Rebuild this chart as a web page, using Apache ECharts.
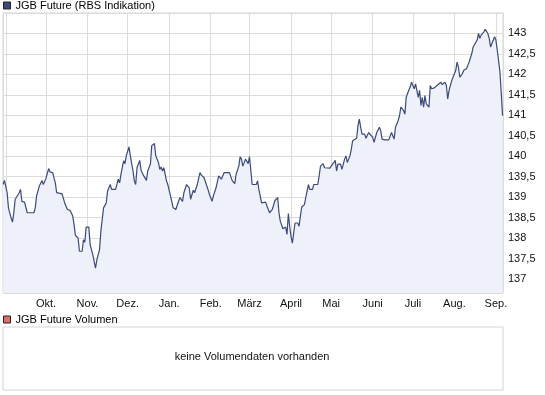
<!DOCTYPE html>
<html>
<head>
<meta charset="utf-8">
<script src="https://cdn.jsdelivr.net/npm/echarts@6/dist/echarts.min.js"></script>
<style>
html,body{margin:0;padding:0;background:#fff;}
#c{width:545px;height:395px;}
</style>
</head>
<body>
<div id="c"></div>
<script>
// ---- data ----
const seriesName = 'JGB Future (RBS Indikation)';
const volumeName = 'JGB Future Volumen';
const noVolumeText = 'keine Volumendaten vorhanden';
const monthLabels = ['Jan.','Feb.','März','April','Mai','Juni','Juli','Aug.','Sep.','Okt.','Nov.','Dez.'];
const yTicks = [137,137.5,138,138.5,139,139.5,140,140.5,141,141.5,142,142.5,143];

const dates = [
'2011-08-30','2011-08-31','2011-09-02','2011-09-03','2011-09-05','2011-09-06','2011-09-07','2011-09-08','2011-09-09','2011-09-11',
'2011-09-12','2011-09-13','2011-09-15','2011-09-17','2011-09-19','2011-09-22','2011-09-23','2011-09-24','2011-09-26','2011-09-28',
'2011-09-29','2011-10-01','2011-10-03','2011-10-04','2011-10-06','2011-10-08','2011-10-09','2011-10-13','2011-10-15','2011-10-17',
'2011-10-19','2011-10-21','2011-10-22','2011-10-23','2011-10-25','2011-10-26','2011-10-28','2011-10-29','2011-10-30','2011-10-31',
'2011-11-02','2011-11-03','2011-11-05','2011-11-07','2011-11-08','2011-11-10','2011-11-11','2011-11-12','2011-11-13','2011-11-15',
'2011-11-16','2011-11-18','2011-11-19','2011-11-22','2011-11-24','2011-11-25','2011-11-26','2011-11-28','2011-11-29','2011-11-30',
'2011-12-02','2011-12-03','2011-12-05','2011-12-06','2011-12-07','2011-12-08','2011-12-10','2011-12-11','2011-12-13','2011-12-15',
'2011-12-16','2011-12-18','2011-12-19','2011-12-21','2011-12-22','2011-12-24','2011-12-25','2011-12-26','2011-12-27','2011-12-28',
'2011-12-30','2011-12-31','2012-01-02','2012-01-04','2012-01-06','2012-01-08','2012-01-09','2012-01-11','2012-01-12','2012-01-14',
'2012-01-16','2012-01-17','2012-01-19','2012-01-20','2012-01-22','2012-01-24','2012-01-25','2012-01-27','2012-01-30','2012-01-31',
'2012-02-02','2012-02-03','2012-02-05','2012-02-07','2012-02-09','2012-02-11','2012-02-15','2012-02-17','2012-02-19','2012-02-20',
'2012-02-22','2012-02-23','2012-02-24','2012-02-25','2012-02-27','2012-02-29','2012-03-01','2012-03-03','2012-03-06','2012-03-07',
'2012-03-08','2012-03-10','2012-03-11','2012-03-13','2012-03-15','2012-03-16','2012-03-18','2012-03-20','2012-03-22','2012-03-23',
'2012-03-24','2012-03-26','2012-03-27','2012-03-28','2012-03-29','2012-03-30','2012-03-31','2012-04-01','2012-04-02','2012-04-03',
'2012-04-04','2012-04-06','2012-04-07','2012-04-08','2012-04-09','2012-04-11','2012-04-12','2012-04-14','2012-04-15','2012-04-17',
'2012-04-18','2012-04-21','2012-04-22','2012-04-23','2012-04-25','2012-04-26','2012-04-30','2012-05-01','2012-05-03','2012-05-04',
'2012-05-05','2012-05-06','2012-05-08','2012-05-09','2012-05-11','2012-05-12','2012-05-13','2012-05-15','2012-05-16','2012-05-17',
'2012-05-18','2012-05-20','2012-05-21','2012-05-22','2012-05-23','2012-05-24','2012-05-26','2012-05-27','2012-05-29','2012-05-30',
'2012-06-01','2012-06-02','2012-06-04','2012-06-06','2012-06-07','2012-06-08','2012-06-10','2012-06-11','2012-06-13','2012-06-15',
'2012-06-16','2012-06-17','2012-06-18','2012-06-20','2012-06-21','2012-06-22','2012-06-24','2012-06-25','2012-06-26','2012-06-28',
'2012-06-29','2012-06-30','2012-07-01','2012-07-02','2012-07-03','2012-07-05','2012-07-06','2012-07-07','2012-07-08','2012-07-09',
'2012-07-10','2012-07-11','2012-07-13','2012-07-14','2012-07-15','2012-07-17','2012-07-19','2012-07-20','2012-07-22','2012-07-23',
'2012-07-25','2012-07-26','2012-07-27','2012-07-28','2012-07-30','2012-07-31','2012-08-02','2012-08-03','2012-08-04','2012-08-05',
'2012-08-07','2012-08-08','2012-08-09','2012-08-10','2012-08-12','2012-08-14','2012-08-15','2012-08-16','2012-08-18','2012-08-19',
'2012-08-20','2012-08-21','2012-08-22','2012-08-23','2012-08-24','2012-08-26','2012-08-27','2012-08-28','2012-08-29','2012-08-31',
'2012-09-01','2012-09-02','2012-09-03','2012-09-04','2012-09-05','2012-09-06'
];
const values = [
139.31,139.41,139.11,138.74,138.49,138.39,138.62,138.95,139.00,139.11,
139.19,138.90,138.88,138.62,138.62,138.62,138.74,139.03,139.27,139.41,
139.31,139.46,139.70,139.62,139.60,139.35,139.11,139.08,138.86,138.70,
138.68,138.54,138.33,138.07,138.00,137.68,137.68,137.96,137.90,138.27,
138.27,137.84,137.59,137.27,137.47,137.72,138.17,138.45,138.74,138.86,
139.15,139.31,139.19,139.19,139.44,139.35,139.56,139.89,139.82,140.01,
140.23,140.01,139.64,139.40,139.31,139.72,139.90,139.66,139.52,139.41,
139.64,139.81,140.26,140.31,140.01,139.85,139.68,139.74,139.64,139.72,
139.40,139.31,139.03,138.74,138.70,138.90,138.99,138.90,139.11,139.31,
139.23,138.95,139.17,139.11,139.31,139.60,139.54,139.48,139.19,139.07,
138.90,139.03,139.23,139.52,139.44,139.60,139.60,139.41,139.33,139.56,
139.76,139.99,139.93,139.76,139.93,139.82,139.99,139.31,139.31,139.40,
139.19,138.86,138.90,138.88,138.70,138.62,138.70,138.92,138.99,138.62,
138.41,138.23,138.21,138.27,138.09,138.60,138.29,138.04,137.88,138.13,
138.37,138.37,138.29,138.54,138.76,138.82,138.99,139.31,139.19,139.19,
139.31,139.31,139.52,139.76,139.82,139.72,139.71,139.76,139.85,139.90,
139.64,139.81,139.81,139.68,139.93,140.01,139.85,140.01,140.17,140.38,
140.42,140.44,140.75,140.91,140.71,140.54,140.54,140.44,140.58,140.60,
140.46,140.34,140.58,140.71,140.62,140.42,140.40,140.42,140.40,140.58,
140.50,140.42,140.71,140.87,140.99,141.20,141.12,141.03,141.44,141.62,
141.69,141.81,141.73,141.65,141.77,141.44,141.61,141.24,141.44,141.20,
141.48,141.28,141.20,141.73,141.65,141.67,141.73,141.77,141.81,141.75,
141.81,141.73,141.40,141.61,141.85,141.93,142.10,142.30,142.18,141.93,
142.02,142.10,142.06,142.14,142.30,142.51,142.67,142.63,142.84,143.00,
142.88,142.96,142.96,143.04,143.10,143.00,142.88,142.67,142.63,142.92,
142.84,142.59,142.34,142.06,141.53,140.99
];
const xRange = ['2011-08-29 22:00', '2012-09-06 07:00'];
const yRange = [136.66, 143.5];

// ---- chart ----
const FONT = '"Liberation Sans", Arial, sans-serif';
const chart = echarts.init(document.getElementById('c'), null, {renderer: 'canvas'});
const lineData = dates.map((d, i) => [d, values[i]]);
const DAY = 86400000;
const firstTick = echarts.time.parse(xRange[0]).getTime();

chart.setOption({
  animation: false,
  backgroundColor: '#ffffff',
  textStyle: {fontFamily: FONT},
  legend: [
    {
      data: [seriesName], left: 3, top: 0, padding: 0,
      icon: 'rect', itemWidth: 7, itemHeight: 7,
      itemStyle: {borderColor: '#222', borderWidth: 1},
      textStyle: {fontSize: 11, color: '#000', fontFamily: FONT},
      selectedMode: false
    },
    {
      data: [volumeName], left: 3, top: 314, padding: 0,
      icon: 'rect', itemWidth: 7, itemHeight: 7,
      itemStyle: {borderColor: '#222', borderWidth: 1},
      textStyle: {fontSize: 11, color: '#000', fontFamily: FONT},
      selectedMode: false
    }
  ],
  grid: [
    {left: 3, right: 42, top: 13, height: 280, show: true, borderColor: '#d4d4d4', borderWidth: 1, backgroundColor: '#fff'},
    {left: 3, right: 42, top: 327, height: 63, show: true, borderColor: '#d4d4d4', borderWidth: 1, backgroundColor: '#fff'}
  ],
  xAxis: [
    {
      type: 'time', gridIndex: 0,
      min: xRange[0], max: xRange[1],
      splitNumber: 12, minInterval: 28 * DAY, maxInterval: 31 * DAY,
      axisLine: {show: false}, axisTick: {show: false},
      splitLine: {show: true, lineStyle: {color: '#dcdcdc', width: 1}},
      axisLabel: {
        show: true, margin: 5, fontSize: 11, color: '#111', fontFamily: FONT,
        hideOverlap: false, showMinLabel: true, showMaxLabel: true,
        formatter: function (v) {
          const d = new Date(v);
          if (d.getDate() !== 1 || d.getHours() !== 0) return '';
          if (v - firstTick < 10 * DAY) return '';
          return monthLabels[d.getMonth()];
        }
      }
    },
    {type: 'value', gridIndex: 1, show: false, min: 0, max: 1, splitLine: {show: false}}
  ],
  yAxis: [
    {
      type: 'value', gridIndex: 0, position: 'right',
      min: yRange[0], max: yRange[1],
      splitNumber: 14, minInterval: 0.5, maxInterval: 0.5,
      axisLine: {show: false}, axisTick: {show: false},
      splitLine: {show: true, lineStyle: {color: '#dcdcdc', width: 1}},
      axisLabel: {
        margin: 5, fontSize: 11, color: '#111', fontFamily: FONT,
        showMinLabel: false, showMaxLabel: false,
        formatter: function (v) {
          const r = Math.round(v * 10) / 10;
          if (yTicks.indexOf(r) < 0 || Math.abs(v - r) > 1e-6) return '';
          return String(r).replace('.', ',');
        }
      }
    },
    {type: 'value', gridIndex: 1, show: false, min: 0, max: 1, splitLine: {show: false}}
  ],
  series: [
    {
      name: seriesName, type: 'line', xAxisIndex: 0, yAxisIndex: 0,
      data: lineData, showSymbol: false, symbol: 'none',
      color: '#3b4a7b',
      lineStyle: {color: '#3b4a7b', width: 1.2},
      areaStyle: {color: '#eef1f9', opacity: 1, origin: 'start'},
      z: 3
    },
    {
      name: volumeName, type: 'bar', xAxisIndex: 1, yAxisIndex: 1,
      data: [], color: '#d9706b', itemStyle: {color: '#d9706b'}
    }
  ],
  graphic: [
    {
      type: 'text', x: 252, y: 357,
      style: {text: noVolumeText, font: '11px ' + FONT, fill: '#111', align: 'center', verticalAlign: 'middle'}
    }
  ]
});
</script>
</body>
</html>
